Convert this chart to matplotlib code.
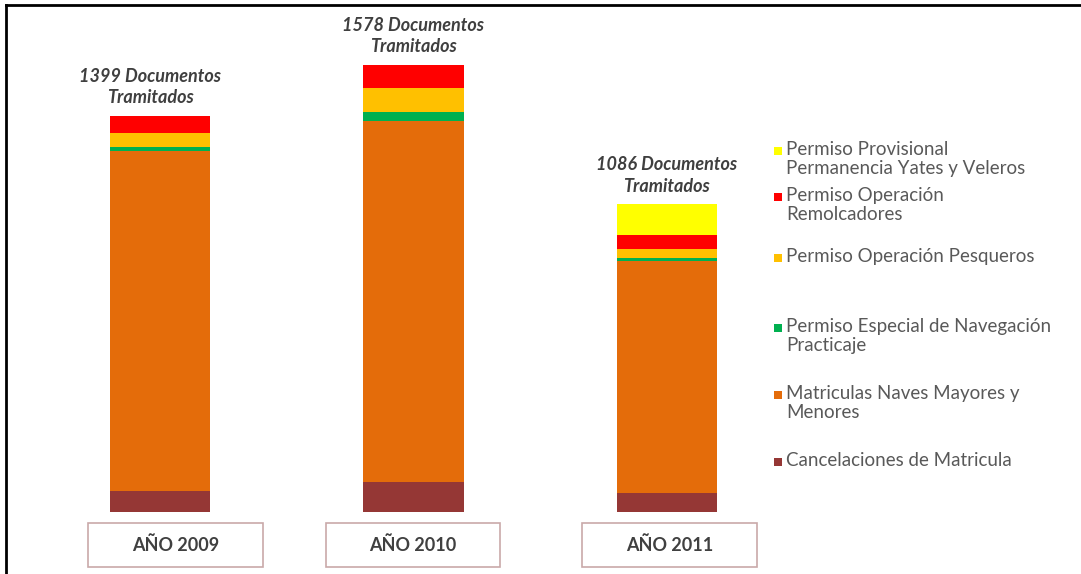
import numpy as np
import matplotlib
matplotlib.use("Agg")
import matplotlib.pyplot as plt
import matplotlib.transforms as mtransforms
from matplotlib.patches import Rectangle
from matplotlib.lines import Line2D

plt.rcParams['font.family'] = ['Lato', 'DejaVu Sans']

# data
years = ['AÑO 2009', 'AÑO 2010', 'AÑO 2011']
totals = [1399, 1578, 1086]
series = ['Cancelaciones de Matricula',
          'Matriculas Naves Mayores y\nMenores',
          'Permiso Especial de Navegación\nPracticaje',
          'Permiso Operación Pesqueros',
          'Permiso Operación\nRemolcadores',
          'Permiso Provisional\nPermanencia Yates y Veleros']
cancelaciones = [75, 106, 67]
matriculas = [1200, 1274, 818]
especial = [12, 32, 11]
pesqueros = [52, 85, 32]
remolcadores = [60, 81, 49]
provisional = [0, 0, 109]
colors = ['#953735', '#E46C0A', '#00B050', '#FFC000', '#FF0000', '#FFFF00']

values = [cancelaciones, matriculas, especial, pesqueros, remolcadores, provisional]

fig = plt.figure(figsize=(10.81, 5.74), dpi=100)
ax = fig.add_axes([33.5 / 1081, 62 / 574, 760 / 1081, 502 / 574])

x = np.arange(len(years))
bottom = np.zeros(len(years))
for vals, col in zip(values, colors):
    ax.bar(x, vals, width=0.395, bottom=bottom, color=col, edgecolor='none')
    bottom += np.array(vals)

ax.set_xlim(-0.5, 2.5)
ax.set_ylim(0, 1772)
ax.axis('off')

# total labels above the bars
lab_shift = [-0.04, 0.0, 0.0]
for i, t in enumerate(totals):
    ax.annotate(f'{t} Documentos\nTramitados', (x[i] + lab_shift[i], bottom[i]),
                xytext=(0, 7), textcoords='offset points', ha='center', va='bottom',
                fontsize=13, fontweight='bold', fontstyle='italic', color='#3f3f3f',
                linespacing=1.3)

# boxed year labels (boxes are not evenly spaced in the original)
box_shift = [0.061, -0.002, 0.012]
trans = mtransforms.blended_transform_factory(ax.transData, fig.transFigure)
for i, yr in enumerate(years):
    cx = x[i] + box_shift[i]
    ax.add_patch(Rectangle((cx - 0.345, 7 / 574), 0.69, 44 / 574, transform=trans,
                           facecolor='white', edgecolor='#c9a9a9', lw=1.2, clip_on=False))
    ax.text(cx, 29 / 574, yr, transform=trans, ha='center', va='center',
            fontsize=13, fontweight='bold', color='#404040')

# legend, Excel-like layout (top entry = last series)
leg_y = [462, 395, 328, 258, 197, 151]
for lab, col, yy in zip(series, colors, leg_y):
    fig.patches.append(Rectangle((774 / 1081, 1 - (yy + 4) / 574), 8 / 1081, 8 / 574,
                                 transform=fig.transFigure, facecolor=col, edgecolor='none'))
    fig.text(786 / 1081, 1 - (yy - 10) / 574, lab, ha='left', va='top', fontsize=13.5,
             color='#595959', linespacing=1.15)

# frame lines on top and left
fig.add_artist(Line2D([6 / 1081, 1], [1 - 5 / 574, 1 - 5 / 574], transform=fig.transFigure,
                      color='black', lw=2))
fig.add_artist(Line2D([6 / 1081, 6 / 1081], [0, 1 - 5 / 574], transform=fig.transFigure,
                      color='black', lw=2))

fig.savefig('out.png', dpi=100)
